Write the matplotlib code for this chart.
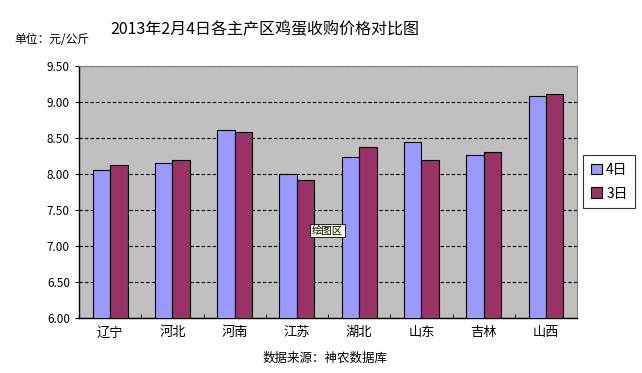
import matplotlib.pyplot as plt
import numpy as np

plt.rcParams['font.family'] = ['Noto Sans CJK SC', 'DejaVu Sans']
plt.rcParams['axes.unicode_minus'] = False

provinces = ['辽宁', '河北', '河南', '江苏', '湖北', '山东', '吉林', '山西']
day4 = [8.05, 8.15, 8.61, 8.00, 8.23, 8.44, 8.26, 9.08]
day3 = [8.12, 8.19, 8.58, 7.92, 8.37, 8.19, 8.30, 9.11]
yticks = [6.00, 6.50, 7.00, 7.50, 8.00, 8.50, 9.00, 9.50]

fig = plt.figure(figsize=(6.42, 3.73), dpi=100)
ax = fig.add_axes([0.123, 0.1475, 0.776, 0.6755])
ax.set_facecolor('#C0C0C0')

x = np.arange(len(provinces))
w = 0.28
ax.bar(x - w / 2, day4, w, color='#9999FF', edgecolor='black', linewidth=0.8, label='4日', zorder=3)
ax.bar(x + w / 2, day3, w, color='#993366', edgecolor='black', linewidth=0.8, label='3日', zorder=3)

ax.set_ylim(6, 9.5)
ax.set_xlim(-0.5, len(provinces) - 0.5)
ax.set_yticks(yticks)
ax.set_yticklabels(['%.2f' % v for v in yticks], fontsize=8.5)
ax.yaxis.grid(True, color='black', linestyle=(0, (3, 2)), linewidth=0.8, zorder=1)

ax.set_xticks(x)
ax.set_xticklabels(provinces, fontsize=9.5)
ax.tick_params(axis='x', length=0, pad=6)
ax.set_xticks(np.arange(-0.5, len(provinces)), minor=True)
ax.tick_params(axis='x', which='minor', direction='in', length=3)
ax.tick_params(axis='y', direction='out', length=3)

for s in ['top', 'right']:
    ax.spines[s].set_color('#808080')
    ax.spines[s].set_linestyle((0, (1, 1)))
    ax.spines[s].set_linewidth(0.8)
for s in ['left', 'bottom']:
    ax.spines[s].set_linewidth(1.0)

fig.text(0.413, 0.92, '2013年2月4日各主产区鸡蛋收购价格对比图', ha='center', va='center',
         fontsize=11.5, fontweight='light')
fig.text(0.023, 0.893, '单位：元/公斤', ha='left', va='center', fontsize=8.5)
fig.text(0.506, 0.04, '数据来源：神农数据库', ha='center', va='center', fontsize=9)
fig.text(0.51, 0.382, '绘图区', ha='center', va='center', fontsize=7.5,
         bbox=dict(boxstyle='square,pad=0.15', facecolor='#FFFFE1', edgecolor='black', linewidth=0.6))

leg = fig.legend(loc='center', bbox_to_anchor=(0.949, 0.513), fontsize=10, frameon=True,
                 fancybox=False, edgecolor='black', handlelength=0.8, handleheight=0.8,
                 handletextpad=0.3, borderpad=0.55, labelspacing=0.7)
leg.get_frame().set_linewidth(0.8)

plt.savefig('out.png', dpi=100)
